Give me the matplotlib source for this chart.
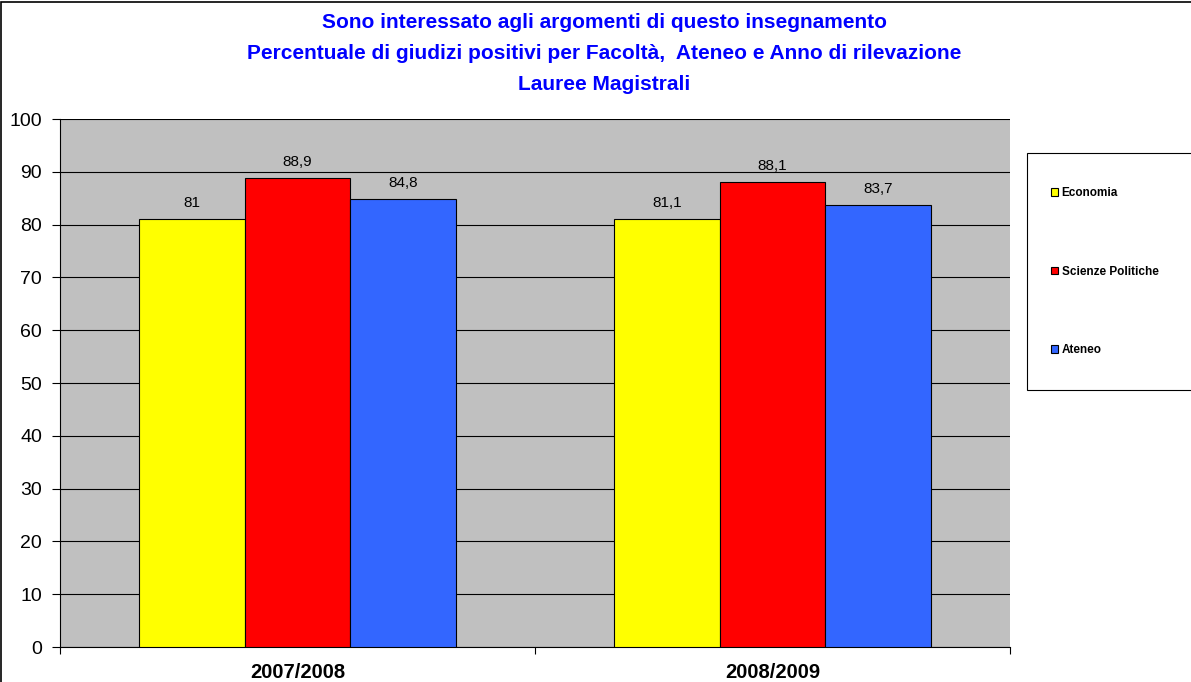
import matplotlib.pyplot as plt
import matplotlib
import numpy as np
from matplotlib.patches import Rectangle

years = ["2007/2008", "2008/2009"]
series = ["Economia", "Scienze Politiche", "Ateneo"]
economia = [81, 81.1]
scienze_politiche = [88.9, 88.1]
ateneo = [84.8, 83.7]
labels_economia = ["81", "81,1"]
labels_scienze = ["88,9", "88,1"]
labels_ateneo = ["84,8", "83,7"]
colors = ["#FFFF00", "#FF0000", "#3366FF"]

matplotlib.rcParams['font.family'] = ['Liberation Sans', 'DejaVu Sans']

W, H = 1191, 682
fig = plt.figure(figsize=(W / 100, H / 100), dpi=100)
ax = fig.add_axes([60 / W, 1 - 647 / H, 950 / W, 528 / H])
ax.set_facecolor("#C0C0C0")

x = np.arange(len(years))
width = 0.222
values = [economia, scienze_politiche, ateneo]
texts = [labels_economia, labels_scienze, labels_ateneo]
for i, (vals, lbls) in enumerate(zip(values, texts)):
    bars = ax.bar(x + (i - 1) * width, vals, width, color=colors[i],
                  edgecolor="black", linewidth=0.8, label=series[i], zorder=3)
    for b, t in zip(bars, lbls):
        ax.text(b.get_x() + b.get_width() / 2, b.get_height() + 1.7, t,
                ha="center", va="bottom", fontsize=11)

ax.set_xlim(-0.5, 1.5)
ax.set_ylim(0, 100)
ax.set_yticks(range(0, 101, 10))
ax.yaxis.grid(True, color="black", linewidth=0.8, zorder=0)
ax.set_axisbelow(True)
ax.set_xticks([-0.5, 0.5, 1.5])
ax.set_xticklabels([])
ax.tick_params(axis="x", direction="out", length=5, width=0.8)
ax.tick_params(axis="y", direction="out", length=6, width=0.8, labelsize=14, pad=7)
for i, yr in enumerate(years):
    ax.text(i, -3.0, yr, ha="center", va="top", fontsize=14.5, fontweight="bold")
for s in ["top", "right"]:
    ax.spines[s].set_visible(False)
ax.spines["left"].set_linewidth(0.8)
ax.spines["bottom"].set_linewidth(0.8)

title = ["Sono interessato agli argomenti di questo insegnamento",
         "Percentuale di giudizi positivi per Facoltà,  Ateneo e Anno di rilevazione",
         "Lauree Magistrali"]
for k, line in enumerate(title):
    fig.text(604 / W, 1 - (23 + 30.5 * k) / H, line, ha="center", va="center",
             fontsize=15, fontweight="bold", color="#0000FF")

# legend box runs past the right edge like in the original
fig.patches.append(Rectangle((1027 / W, 1 - 390 / H), 0.3, 237 / H,
                             transform=fig.transFigure, facecolor="white",
                             edgecolor="black", linewidth=0.8, zorder=-1))
leg = ax.legend(loc="upper left", bbox_to_anchor=(1051 / W, 1 - 187 / H),
                bbox_transform=fig.transFigure, frameon=False,
                fontsize=8.5, handlelength=0.6, handleheight=0.6,
                handletextpad=0.3, labelspacing=5.65, borderpad=0,
                borderaxespad=0)
for t in leg.get_texts():
    t.set_fontweight("bold")
for h in leg.legend_handles:
    h.set_linewidth(0.8)

fig.patches.append(Rectangle((1 / W, -0.1), 1.2, 1 - 1.5 / H + 0.1,
                             transform=fig.transFigure, fill=False,
                             edgecolor="black", linewidth=1.2, zorder=-1))

fig.savefig("out.png", dpi=100)
